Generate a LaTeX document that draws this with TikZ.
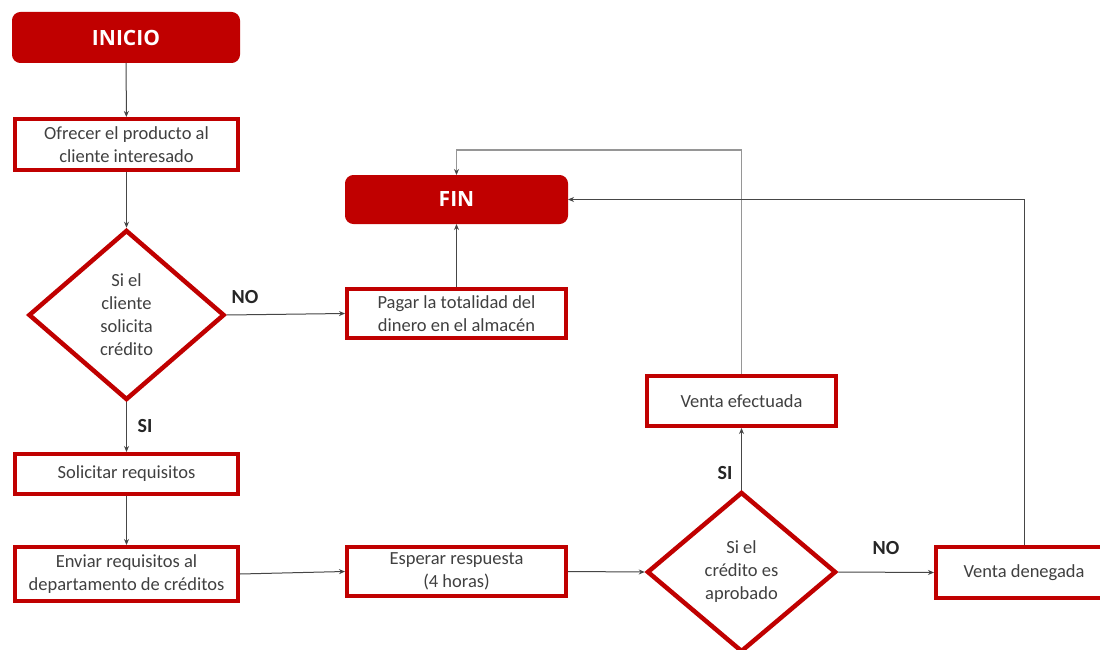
\documentclass[tikz,border=0pt]{standalone}
\usepackage{fontspec}
\setmainfont{Carlito}
\newfontfamily\headfont{Open Sans}
\usetikzlibrary{shapes.geometric,arrows.meta}
\definecolor{flowred}{RGB}{192,0,0}
\definecolor{txtgray}{RGB}{64,64,64}
\definecolor{linegray}{RGB}{70,70,70}
\definecolor{lightline}{RGB}{150,150,150}
\tikzset{
  terminal/.style={rectangle, rounded corners=8pt, fill=flowred, draw=flowred, line width=1pt,
    text=white, font=\headfont\bfseries\fontsize{21}{24}\selectfont, inner sep=0pt},
  procbox/.style={rectangle, draw=flowred, line width=4pt, fill=white, text=txtgray,
    align=center, inner sep=0pt, font=\fontsize{18.5}{23}\selectfont},
  decision/.style={diamond, draw=flowred, line width=4.5pt, fill=white, text=txtgray,
    align=center, inner sep=0pt, font=\fontsize{18.5}{23}\selectfont},
  flow/.style={draw=linegray, line width=1pt, -{Stealth[length=6pt,width=5pt]}},
  backflow/.style={draw=lightline, line width=1.6pt, -{Stealth[length=6pt,width=5pt,color=linegray]}},
  answer/.style={text=black!85, font=\bfseries\fontsize{20}{24}\selectfont, inner sep=0pt}
}
\begin{document}
\begin{tikzpicture}[x=1pt,y=-1pt]
\useasboundingbox[fill=white] (0,0) rectangle (1100,650);

% terminals
\node[terminal, minimum width=227pt, minimum height=50pt] (inicio) at (126,37.5) {INICIO};
\node[terminal, minimum width=222pt, minimum height=48pt] (fin) at (456.5,199.5) {FIN};

% process boxes
\node[procbox, minimum width=223pt, minimum height=51pt] (ofrecer) at (126.5,144.5)
  {Ofrecer el producto al\\cliente interesado};
\node[procbox, minimum width=219pt, minimum height=49pt] (pagar) at (456.5,313.5)
  {Pagar la totalidad del\\dinero en el almacén};
\node[procbox, minimum width=223pt, minimum height=40pt] (solicitar) at (126.5,474)
  {Solicitar requisitos};
\node[procbox, minimum width=223pt, minimum height=54pt] (enviar) at (126.5,574)
  {Enviar requisitos al\\departamento de créditos};
\node[procbox, minimum width=219pt, minimum height=49pt] (esperar) at (456.5,571.5)
  {Esperar respuesta\\(4 horas)};
\node[procbox, minimum width=189pt, minimum height=50pt] (efectuada) at (741.5,401)
  {Venta efectuada};
\node[procbox, minimum width=176pt, minimum height=51pt] (denegada) at (1024,572.5)
  {Venta denegada};

% decisions
\node[decision, minimum width=196pt, minimum height=170pt] (d1) at (126.5,315)
  {Si el\\cliente\\solicita\\crédito};
\node[decision, minimum width=189pt, minimum height=160pt] (d2) at (741.5,572)
  {Si el\\crédito es\\aprobado};

% connectors
\draw[flow] (inicio) -- (ofrecer);
\draw[flow] (ofrecer) -- (d1);
\draw[flow] (d1.east) -- (pagar.west);
\draw[flow] (pagar) -- (fin);
\draw[flow] (d1.south) -- (solicitar.north);
\draw[flow] (solicitar) -- (enviar);
\draw[flow] (enviar.east) -- (esperar.west);
\draw[flow] (esperar.east) -- (d2.west);
\draw[flow] (d2.north) -- (efectuada.south);
\draw[flow] (d2.east) -- (denegada.west);
\draw[backflow] (efectuada.north) |- (456.5,150) -- (fin.north);
\draw[flow] (denegada.north) |- (fin.east);

% branch labels
\node[answer] (no1) at (245,297) {NO};
\node[answer] (si1) at (145,426) {SI};
\node[answer] (si2) at (725,473) {SI};
\node[answer] (no2) at (886,548) {NO};
\end{tikzpicture}
\end{document}
